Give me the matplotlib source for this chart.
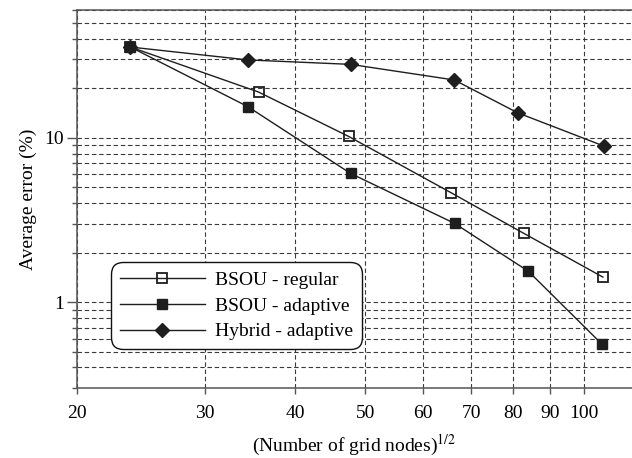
import matplotlib
matplotlib.use("Agg")
import matplotlib.pyplot as plt
from matplotlib.ticker import FixedLocator, FixedFormatter, LogLocator, NullFormatter

plt.rcParams["font.family"] = ["Liberation Serif", "DejaVu Serif"]
plt.rcParams["mathtext.fontset"] = "stix"

# square root of number of grid nodes
x_regular = [23.7, 35.6, 47.4, 65.7, 82.7, 106.3]
x_adaptive = [23.7, 34.4, 47.7, 66.4, 83.9, 106.1]
x_hybrid = [23.7, 34.4, 47.7, 66.3, 81.1, 106.7]

# average error (%)
err_regular = [35.7, 19.0, 10.2, 4.62, 2.62, 1.42]
err_adaptive = [35.7, 15.5, 6.07, 3.01, 1.54, 0.552]
err_hybrid = [35.7, 29.8, 28.0, 22.5, 14.2, 8.9]

series_labels = ["BSOU - regular", "BSOU - adaptive", "Hybrid - adaptive"]
x_ticks = [20, 30, 40, 50, 60, 70, 80, 90, 100]
y_ticks = [1, 10]

line_col = "#1e1e1e"
grid_col = "#3a3a3a"
axis_col = "#555555"
fs = 14

fig = plt.figure(figsize=(6.32, 4.58), dpi=100)
ax = fig.add_axes([77 / 632, 1 - 388 / 458, 555 / 632, 378 / 458])

ax.plot(x_regular, err_regular, color=line_col, lw=1.0, marker="s", ms=6.5,
        mfc="none", mec=line_col, mew=1.3, label=series_labels[0], zorder=3)
ax.plot(x_adaptive, err_adaptive, color=line_col, lw=1.0, marker="s", ms=7.3,
        mfc=line_col, mec=line_col, label=series_labels[1], zorder=3)
ax.plot(x_hybrid, err_hybrid, color=line_col, lw=1.0, marker="D", ms=7.3,
        mfc=line_col, mec=line_col, label=series_labels[2], zorder=3)

ax.set_xscale("log")
ax.set_yscale("log")
ax.set_xlim(20, 116.6)
ax.set_ylim(0.3, 60)

ax.xaxis.set_major_locator(FixedLocator(x_ticks))
ax.xaxis.set_major_formatter(FixedFormatter([str(t) for t in x_ticks]))
ax.xaxis.set_minor_locator(FixedLocator([]))
ax.yaxis.set_major_locator(FixedLocator(y_ticks))
ax.yaxis.set_major_formatter(FixedFormatter([str(t) for t in y_ticks]))
ax.yaxis.set_minor_locator(LogLocator(base=10, subs=range(2, 10)))
ax.yaxis.set_minor_formatter(NullFormatter())

dash = (0, (4, 2.5))
ax.grid(True, axis="x", which="major", color=grid_col, lw=0.8, linestyle=dash)
ax.grid(True, axis="y", which="both", color=grid_col, lw=0.8, linestyle=dash)
ax.set_axisbelow(True)

ax.tick_params(axis="x", which="major", direction="out", length=4, width=1.0,
               color=axis_col, labelsize=fs, pad=8)
ax.tick_params(axis="y", which="major", direction="out", length=7.5, width=1.0,
               color=axis_col, labelsize=fs, pad=2)
ax.tick_params(axis="y", which="minor", direction="out", length=3.8, width=1.0,
               color=axis_col)

for side in ("left", "bottom", "top"):
    ax.spines[side].set_color(axis_col)
    ax.spines[side].set_linewidth(1.1)
ax.spines["right"].set_visible(False)

ax.set_xlabel(r"(Number of grid nodes)$^{1/2}$", fontsize=fs, labelpad=8)
ax.set_ylabel("Average error (%)", fontsize=fs, labelpad=5)

leg = ax.legend(loc="lower left", bbox_to_anchor=(0.061, 0.103), borderaxespad=0,
                fontsize=fs, handlelength=4.4, handletextpad=0.5, labelspacing=0.42,
                borderpad=0.45, fancybox=True, framealpha=1, edgecolor="#111111")
leg.get_frame().set_linewidth(1.0)
leg.get_frame().set_boxstyle("round", pad=0, rounding_size=0.6)

fig.savefig("out.png", dpi=100)
